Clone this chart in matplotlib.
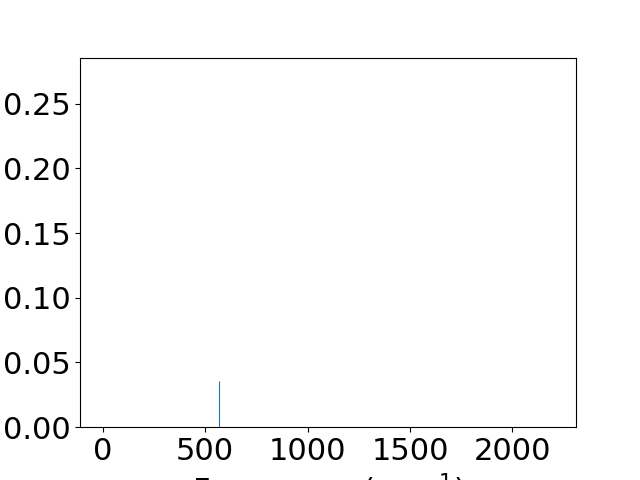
import matplotlib
matplotlib.use("Agg")
from matplotlib import pyplot as plt

# peak positions (cm^-1) and intensities
frequencies = [568]
intensities = [0.036]

plt.rcParams["font.size"] = 22

fig, ax = plt.subplots(figsize=(6.4, 4.8), dpi=100)
ax.vlines(frequencies, 0, intensities, color="tab:blue", linewidth=0.8)
ax.set_xlim(-110, 2310)
ax.set_ylim(0, 0.2856)
ax.set_xticks([0, 500, 1000, 1500, 2000])
ax.set_yticks([0.0, 0.05, 0.10, 0.15, 0.20, 0.25])
ax.set_xlabel("Frequency (cm$^{-1}$)")
ax.set_ylabel("Intensity")

fig.savefig("out.png", dpi=100)
